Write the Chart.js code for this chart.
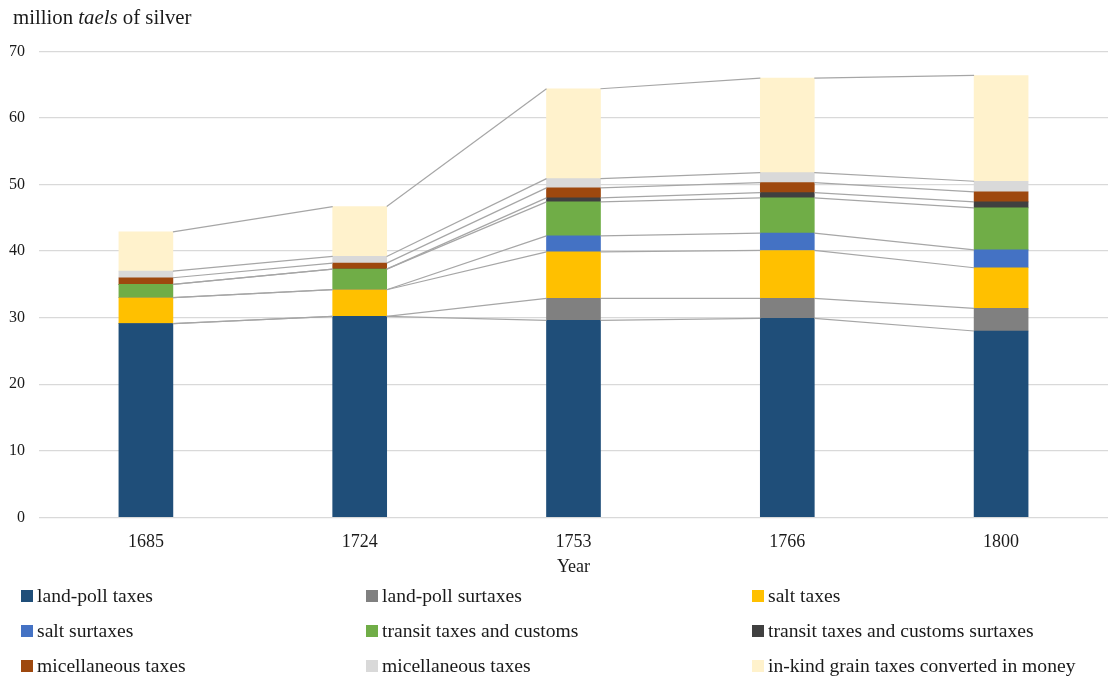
<!DOCTYPE html>
<html>
<head>
<meta charset="utf-8">
<script src="https://cdn.jsdelivr.net/npm/chart.js@4"></script>
<style>
  html, body { margin: 0; padding: 0; background: #fff; }
  #wrap { position: relative; width: 1108px; height: 677px; font-family: "Liberation Serif", "DejaVu Serif", serif; color: #1a1a1a; }
  #c { position: absolute; left: 0; top: 0; }
  #title { position: absolute; left: 13px; top: 4px; font-size: 20.8px; line-height: 26px; white-space: nowrap; }
  .leg { position: absolute; font-size: 19.6px; line-height: 22px; white-space: nowrap; }
  .leg span.box { position: absolute; left: 0; top: 5px; width: 12px; height: 12px; }
  .leg span.txt { position: absolute; left: 16px; top: 0; }
</style>
</head>
<body>
<div id="wrap">
  <canvas id="c" width="1108" height="677"></canvas>
  <div id="title">million <i>taels</i> of silver</div>
  <div id="legend"></div>
</div>
<script>
const categories = ["1685", "1724", "1753", "1766", "1800"];
const landPoll = [29.1, 30.2, 29.6, 29.9, 28.0];
const landPollSurtaxes = [0, 0, 3.3, 3.0, 3.4];
const saltTaxes = [3.9, 4.0, 7.0, 7.2, 6.1];
const saltSurtaxes = [0, 0, 2.4, 2.6, 2.7];
const transitCustoms = [2.0, 3.1, 5.1, 5.3, 6.3];
const transitSurtaxes = [0, 0, 0.6, 0.8, 0.9];
const miscTaxesA = [1.0, 0.9, 1.5, 1.5, 1.5];
const miscTaxesB = [1.0, 1.0, 1.4, 1.5, 1.6];
const grainMoney = [5.9, 7.5, 13.5, 14.2, 15.9];
const yTicks = [0, 10, 20, 30, 40, 50, 60, 70];

const seriesNames = ["land-poll taxes", "land-poll surtaxes", "salt taxes", "salt surtaxes",
  "transit taxes and customs", "transit taxes and customs surtaxes", "micellaneous taxes",
  "micellaneous taxes", "in-kind grain taxes converted in money"];
const seriesValues = [landPoll, landPollSurtaxes, saltTaxes, saltSurtaxes, transitCustoms,
  transitSurtaxes, miscTaxesA, miscTaxesB, grainMoney];
const seriesColors = ["#1f4e79", "#808080", "#ffc000", "#4472c4", "#70ad47", "#404040",
  "#9e480e", "#d9d9d9", "#fff2cc"];

const FONT = "'Liberation Serif', 'DejaVu Serif', serif";

const seriesLines = {
  id: 'seriesLines',
  afterDatasetsDraw(chart) {
    const ctx = chart.ctx;
    ctx.save();
    ctx.strokeStyle = '#a6a6a6';
    ctx.lineWidth = 1.2;
    chart.data.datasets.forEach((ds, i) => {
      const meta = chart.getDatasetMeta(i);
      for (let j = 0; j < meta.data.length - 1; j++) {
        const a = meta.data[j], b = meta.data[j + 1];
        ctx.beginPath();
        ctx.moveTo(a.x + a.width / 2, a.y);
        ctx.lineTo(b.x - b.width / 2, b.y);
        ctx.stroke();
      }
    });
    ctx.restore();
  }
};

new Chart(document.getElementById('c'), {
  type: 'bar',
  data: {
    labels: categories,
    datasets: seriesValues.map((v, i) => ({
      label: seriesNames[i],
      data: v,
      backgroundColor: seriesColors[i],
      borderWidth: 0,
      barThickness: 54
    }))
  },
  options: {
    responsive: false,
    animation: false,
    layout: { padding: { top: 51.5, right: 0, bottom: 99, left: 0 } },
    plugins: { legend: { display: false }, tooltip: { enabled: false }, title: { display: false } },
    scales: {
      x: {
        stacked: true,
        afterFit(scale) { scale.height = 60.7; },
        grid: { display: false, drawTicks: false },
        border: { display: false },
        ticks: { color: '#1a1a1a', font: { family: FONT, size: 18 }, padding: 14 },
        title: { display: true, text: 'Year', color: '#1a1a1a', font: { family: FONT, size: 18 }, padding: { top: 0, bottom: 0 } }
      },
      y: {
        stacked: true,
        min: 0, max: 70,
        afterFit(scale) { scale.width = 39; },
        afterBuildTicks(scale) { scale.ticks = yTicks.map(v => ({ value: v })); },
        grid: { color: '#d9d9d9', lineWidth: 1.3, drawTicks: false },
        border: { display: false },
        ticks: { color: '#1a1a1a', font: { family: FONT, size: 16 }, padding: 14 }
      }
    }
  },
  plugins: [seriesLines]
});

// HTML legend built from the series arrays
const legend = document.getElementById('legend');
const colX = [21, 366, 752];
const rowY = [585, 620, 655];
seriesNames.forEach((name, i) => {
  const d = document.createElement('div');
  d.className = 'leg';
  d.style.left = colX[i % 3] + 'px';
  d.style.top = rowY[Math.floor(i / 3)] + 'px';
  const box = document.createElement('span');
  box.className = 'box';
  box.style.background = seriesColors[i];
  const t = document.createElement('span');
  t.className = 'txt';
  t.textContent = name;
  d.appendChild(box);
  d.appendChild(t);
  legend.appendChild(d);
});
</script>
</body>
</html>
